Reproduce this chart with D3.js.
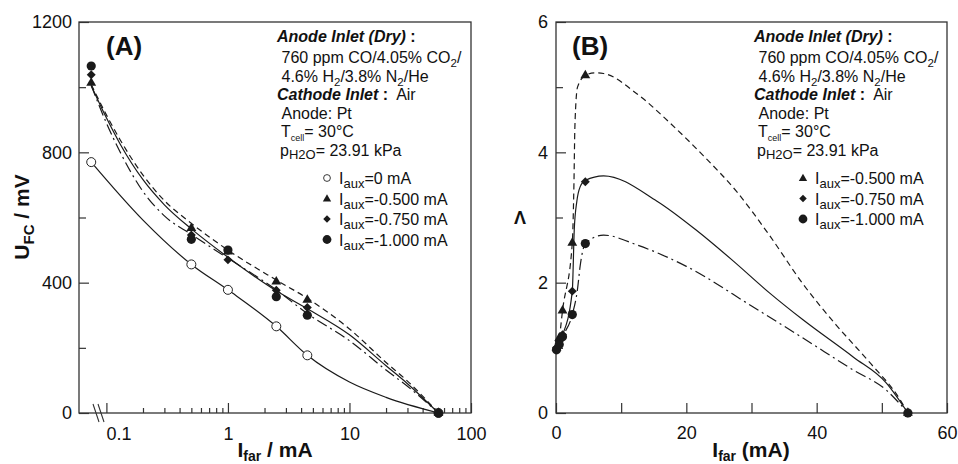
<!DOCTYPE html>
<html><head><meta charset="utf-8">
<script src="https://cdn.jsdelivr.net/npm/d3@7"></script>
<style>
body{margin:0;background:#fff}
svg{display:block;font-family:"Liberation Sans",Arial,Helvetica,sans-serif}
</style></head>
<body><svg id="c" width="958" height="464"></svg>
<script>
// ---------------- data ----------------
const iFar = [0.075, 0.5, 1, 2.5, 4.5, 54];           // mA
const uAux0   = [770, 456, 378, 266, 177, 0];          // mV, Iaux = 0
const uAux050 = [1013, 567, 495, 403, 347, 0];         // Iaux = -0.500
const uAux075 = [1038, 546, 470, 377, 324, 0];         // Iaux = -0.750
const uAux100 = [1065, 533, 500, 357, 300, 0];         // Iaux = -1.000

const lamAux050 = [1.00, 1.15, 1.57, 2.61, 5.18, 0];
const lamAux075 = [1.00, 1.10, 1.20, 1.87, 3.55, 0];
const lamAux100 = [0.97, 1.05, 1.17, 1.51, 2.60, 0];

// fitted curves
const fitA0x  = [0.075, 0.2, 0.5, 1, 2.5, 4.5, 10, 20, 54];
const fitA0u  = [770, 592, 456, 378, 266, 177, 95, 48, 0];
const fitAx   = [0.075, 0.1, 0.13, 0.2, 0.3, 0.5, 1, 2.5, 4.5, 10, 20, 30, 54];
const fitA050 = [1008, 915, 838, 730, 652, 582, 500, 408, 352, 258, 155, 98, 0];
const fitA075 = [1005, 906, 825, 716, 639, 565, 478, 375, 320, 240, 145, 90, 0];
const fitA100 = [1005, 890, 800, 680, 605, 548, 475, 378, 305, 222, 132, 82, 0];

const fitB050x = [0.075, 0.5, 1, 2.5, 2.75, 2.9, 3.3, 4.5, 6, 7.3, 12.4, 17.5, 22.6, 27.7, 32.8, 37.9, 43, 48.1, 52.7, 54];
const fitB050  = [1.0, 1.15, 1.57, 2.61, 3.5, 4.4, 5.0, 5.18, 5.22, 5.21, 4.9, 4.45, 3.95, 3.4, 2.72, 1.98, 1.35, 0.78, 0.22, 0];
const fitB075x = [0.075, 0.5, 1, 2.5, 2.8, 3.2, 3.7, 4.5, 7.3, 15.5, 21.6, 27, 32.8, 37.9, 45.6, 50.7, 54];
const fitB075  = [1.0, 1.1, 1.2, 1.87, 2.81, 3.25, 3.47, 3.57, 3.64, 3.25, 2.8, 2.35, 1.84, 1.43, 0.86, 0.46, 0];
const fitB100x = [0.075, 0.5, 1, 2.5, 3.3, 3.7, 4.5, 7.3, 12.4, 20, 30.2, 37.9, 45.6, 50.7, 54];
const fitB100  = [0.97, 1.05, 1.17, 1.51, 1.9, 2.25, 2.6, 2.73, 2.58, 2.25, 1.63, 1.15, 0.66, 0.35, 0];

const yTicksA = [0, 400, 800, 1200], yMinorA = [200, 600, 1000];
const xTicksA = [0.1, 1, 10, 100];
const yTicksB = [0, 2, 4, 6], yMinorB = [1, 3, 5];
const xTicksB = [0, 10, 20, 30, 40, 50, 60];

// ---------------- setup ----------------
const svg = d3.select("#c");
const INK = "#1a1a1a", AX = "#333";
const xA = d3.scaleLog().domain([0.0595, 100]).range([79, 471]);
const yA = d3.scaleLinear().domain([0, 1200]).range([413, 22]);
const xB = d3.scaleLinear().domain([0, 60]).range([556, 947]);
const yB = d3.scaleLinear().domain([0, 6]).range([413, 22]);

function rich(sel, x, y, parts, size, extra) {
  const t = sel.append("text").attr("x", x).attr("y", y).attr("font-size", size).attr("fill", "#111");
  if (extra) Object.entries(extra).forEach(([k, v]) => t.attr(k, v));
  let off = 0;
  parts.forEach(p => {
    const s = t.append("tspan").text(p.t);
    const want = p.dy || 0;
    s.attr("dy", want - off); off = want;
    if (p.fs) s.attr("font-size", p.fs);
    if (p.fw) s.attr("font-weight", p.fw);
    if (p.st) s.attr("font-style", p.st);
  });
  return t;
}

function styleAxis(g) {
  g.select(".domain").remove();
  g.selectAll(".tick line").attr("stroke", AX).attr("stroke-width", 1.2);
  g.selectAll(".tick text").attr("fill", "#111").attr("font-size", 18)
    .attr("font-family", '"Liberation Sans",Arial,sans-serif');
}

// ---------------- panel A ----------------
const gA = svg.append("g");
gA.append("g").attr("transform", "translate(79,0)")
  .call(d3.axisLeft(yA).tickValues(yTicksA).tickSize(-10).tickPadding(7).tickFormat(d3.format("d"))).call(styleAxis);
gA.append("g").attr("transform", "translate(79,0)")
  .call(d3.axisLeft(yA).tickValues(yMinorA).tickSize(-7).tickFormat("")).call(styleAxis);
const minorA = [];
[0.1, 1, 10].forEach(d => { for (let k = 2; k <= 9; k++) minorA.push(d * k); });
gA.append("g").attr("transform", "translate(0,413)")
  .call(d3.axisBottom(xA).tickValues(xTicksA).tickSize(-10).tickPadding(14).tickFormat(d => d < 1 ? "0.1" : d3.format("d")(d))).call(styleAxis)
  .selectAll(".tick text").attr("dx", (d) => d === 0.1 ? 12 : 0);
gA.append("g").attr("transform", "translate(0,413)")
  .call(d3.axisBottom(xA).tickValues(minorA).tickSize(-5).tickFormat("")).call(styleAxis);
gA.append("rect").attr("x", 79).attr("y", 22).attr("width", 392).attr("height", 391)
  .attr("fill", "none").attr("stroke", AX).attr("stroke-width", 1.3);
// axis break marks
[0, 5].forEach(o => {
  gA.append("line").attr("x1", 93 + o).attr("y1", 404).attr("x2", 99 + o).attr("y2", 422)
    .attr("stroke", AX).attr("stroke-width", 1.1);
});

const lineA = d3.line().x(d => xA(d[0])).y(d => yA(d[1])).curve(d3.curveMonotoneX);
const zip = (a, b) => a.map((v, i) => [v, b[i]]);
const styles = { dashed: "6,4", dashdot: "11,4,2,4" };
function curve(g, line, pts, dash) {
  g.append("path").attr("d", line(pts)).attr("fill", "none").attr("stroke", INK)
    .attr("stroke-width", 1.2).attr("stroke-dasharray", dash);
}
curve(gA, lineA, zip(fitA0x, fitA0u), null);
curve(gA, lineA, zip(fitAx, fitA050), styles.dashed);
curve(gA, lineA, zip(fitAx, fitA075), null);
curve(gA, lineA, zip(fitAx, fitA100), styles.dashdot);

const tri = d3.symbol().type(d3.symbolTriangle).size(42)();
const dia = d3.symbol().type(d3.symbolSquare).size(40)();
function marks(g, xs, ys, x, y, kind) {
  xs.forEach((v, i) => {
    const px = x(v), py = y(ys[i]);
    if (kind === "open") g.append("circle").attr("cx", px).attr("cy", py).attr("r", 4.5).attr("fill", "#fff").attr("stroke", "#222").attr("stroke-width", 1);
    else if (kind === "circle") g.append("circle").attr("cx", px).attr("cy", py).attr("r", 4.6).attr("fill", INK);
    else if (kind === "tri") g.append("path").attr("d", tri).attr("transform", `translate(${px},${py})`).attr("fill", INK);
    else g.append("path").attr("d", dia).attr("transform", `translate(${px},${py}) rotate(45)`).attr("fill", INK);
  });
}
marks(gA, iFar, uAux0, xA, yA, "open");
marks(gA, iFar, uAux050, xA, yA, "tri");
marks(gA, iFar, uAux075, xA, yA, "dia");
marks(gA, iFar, uAux100, xA, yA, "circle");

rich(gA, 106, 55, [{t: "(A)"}], 26, {"font-weight": "bold"});
// axis labels
rich(gA, 0, 0, [{t: "U"}, {t: "FC", fs: 15, dy: 5}, {t: " / mV", dy: 0}], 21,
  {"font-weight": "bold", "text-anchor": "middle", transform: "translate(29,217) rotate(-90)"});
rich(gA, 275, 457, [{t: "I"}, {t: "far", fs: 14, dy: 3.5}, {t: " / mA", dy: 0}], 21,
  {"font-weight": "bold", "text-anchor": "middle"});

function infoBlock(g, x0) {
  rich(g, x0, 41.5, [{t: "Anode Inlet (Dry)", st: "italic"}, {t: " :"}], 16, {"font-weight": "bold"});
  rich(g, x0 + 4.5, 63, [{t: "760 ppm CO/4.05% CO"}, {t: "2", fs: 11.5, dy: 4}, {t: "/", dy: 0}], 16);
  rich(g, x0 + 4.5, 81.5, [{t: "4.6% H"}, {t: "2", fs: 11.5, dy: 4}, {t: "/3.8% N", dy: 0}, {t: "2", fs: 11.5, dy: 4}, {t: "/He", dy: 0}], 16);
  rich(g, x0, 100, [{t: "Cathode Inlet", st: "italic", fw: "bold"}, {t: " :", fw: "bold"}, {t: "  Air"}], 16, {"xml:space": "preserve"});
  rich(g, x0 + 4.5, 118.5, [{t: "Anode: Pt"}], 16);
  rich(g, x0 + 4, 137, [{t: "T"}, {t: "cell", fs: 9, dy: 4}, {t: "= 30\u00B0C", dy: 0}], 16);
  rich(g, x0 + 3, 155.5, [{t: "p"}, {t: "H2O", fs: 13, dy: 3}, {t: "= 23.91 kPa", dy: 0}], 16);
}
function legendRow(g, sx, tx, y, kind, label) {
  if (kind === "open") g.append("circle").attr("cx", sx).attr("cy", y - 6).attr("r", 3.4).attr("fill", "#fff").attr("stroke", "#222").attr("stroke-width", 0.9);
  else if (kind === "circle") g.append("circle").attr("cx", sx).attr("cy", y - 6).attr("r", 4.4).attr("fill", INK);
  else if (kind === "tri") g.append("path").attr("d", d3.symbol().type(d3.symbolTriangle).size(30)()).attr("transform", `translate(${sx},${y - 5.5})`).attr("fill", INK);
  else g.append("path").attr("d", d3.symbol().type(d3.symbolSquare).size(28)()).attr("transform", `translate(${sx},${y - 6}) rotate(45)`).attr("fill", INK);
  rich(g, tx, y, [{t: "I"}, {t: "aux", fs: 13, dy: 4}, {t: label, dy: 0}], 16);
}
infoBlock(gA, 277);
legendRow(gA, 327, 339, 184, "open", "=0 mA");
legendRow(gA, 327, 339, 204.5, "tri", "=-0.500 mA");
legendRow(gA, 327, 339, 225, "dia", "=-0.750 mA");
legendRow(gA, 327, 339, 245.5, "circle", "=-1.000 mA");

// ---------------- panel B ----------------
const gB = svg.append("g");
gB.append("g").attr("transform", "translate(556,0)")
  .call(d3.axisLeft(yB).tickValues(yTicksB).tickSize(-10).tickPadding(8).tickFormat(d3.format("d"))).call(styleAxis);
gB.append("g").attr("transform", "translate(556,0)")
  .call(d3.axisLeft(yB).tickValues(yMinorB).tickSize(-7).tickFormat("")).call(styleAxis);
gB.append("g").attr("transform", "translate(0,413)")
  .call(d3.axisBottom(xB).tickValues(xTicksB).tickSize(-10).tickPadding(13).tickFormat(d => d % 20 === 0 ? d : "")).call(styleAxis);
gB.append("rect").attr("x", 556).attr("y", 22).attr("width", 391).attr("height", 391)
  .attr("fill", "none").attr("stroke", AX).attr("stroke-width", 1.3);

const lineB = d3.line().x(d => xB(d[0])).y(d => yB(d[1])).curve(d3.curveMonotoneX);
curve(gB, lineB, zip(fitB050x, fitB050), styles.dashed);
curve(gB, lineB, zip(fitB075x, fitB075), null);
curve(gB, lineB, zip(fitB100x, fitB100), styles.dashdot);
marks(gB, iFar, lamAux050, xB, yB, "tri");
marks(gB, iFar, lamAux075, xB, yB, "dia");
marks(gB, iFar, lamAux100, xB, yB, "circle");

rich(gB, 572, 55, [{t: "(B)"}], 26, {"font-weight": "bold"});
rich(gB, 520, 224, [{t: "\u039B"}], 18, {"font-weight": "bold", "text-anchor": "middle"});
rich(gB, 751, 457, [{t: "I"}, {t: "far", fs: 14, dy: 3.5}, {t: " (mA)", dy: 0}], 21,
  {"font-weight": "bold", "text-anchor": "middle"});
infoBlock(gB, 754);
legendRow(gB, 803, 815, 184, "tri", "=-0.500 mA");
legendRow(gB, 803, 815, 204.5, "dia", "=-0.750 mA");
legendRow(gB, 803, 815, 225, "circle", "=-1.000 mA");
</script></body></html>
